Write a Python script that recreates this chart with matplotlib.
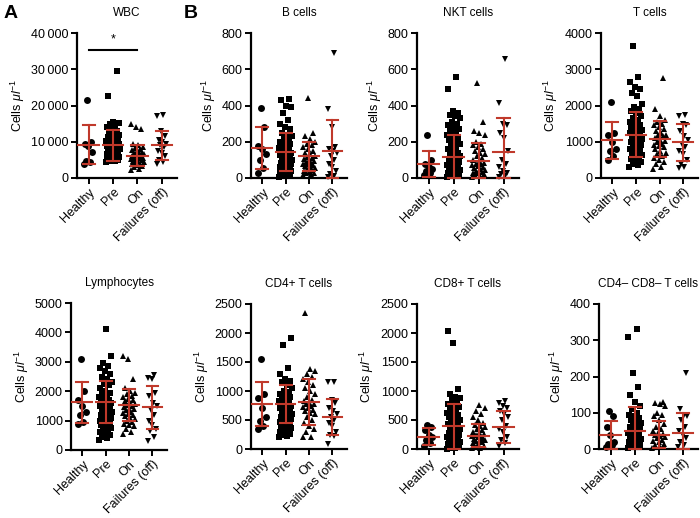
import matplotlib
matplotlib.use("Agg")
import matplotlib.pyplot as plt
import numpy as np

plt.rcParams['font.family'] = ['Liberation Sans', 'DejaVu Sans']
plt.rcParams['mathtext.fontset'] = 'custom'
plt.rcParams['mathtext.it'] = 'Liberation Sans:italic'
plt.rcParams['mathtext.rm'] = 'Liberation Sans'

groups = ["Healthy", "Pre", "On", "Failures (off)"]
markers = ["o", "s", "^", "v"]

titles = ["WBC", "B cells", "NKT cells", "T cells",
          "Lymphocytes", "CD4+ T cells", "CD8+ T cells", "CD4\u2013 CD8\u2013 T cells"]
ymax = [40000, 800, 800, 4000, 5000, 2500, 2500, 400]
ystep = [10000, 200, 200, 1000, 1000, 500, 500, 100]

# ---- individual values ----
wbc_healthy = [21500, 10000, 9500, 8800, 7200, 4800, 4500, 3800]
wbc_pre = [29500, 22500, 15500, 15200, 14800, 14500, 14000, 13500, 13000, 12800, 12500, 12000,
           11800, 11500, 11200, 11000, 10800, 10500, 10200, 10000, 9800, 9600, 9400, 9200, 9000,
           8800, 8600, 8400, 8200, 8000, 7800, 7600, 7400, 7200, 7000, 6800, 6600, 6400, 6200,
           6000, 5800, 5600, 5400, 5200, 5000, 4800, 4600, 4500, 8500, 9300, 10600, 7100, 6300, 5500]
wbc_on = [15000, 14000, 13500, 9500, 9000, 8500, 8200, 8000, 7600, 7200, 7000, 6800, 6500, 6300,
          6000, 5800, 5600, 5400, 5200, 5000, 4800, 4600, 4400, 4200, 4000, 3800, 3500, 3200, 3000,
          2600, 2200, 6100, 5500, 4900, 7400]
wbc_fail = [17500, 17000, 13000, 11500, 10500, 10000, 9500, 9000, 8500, 7500, 7000, 6000, 5000, 4500, 3800]

b_healthy = [385, 280, 175, 160, 130, 100, 55, 25]
b_pre = [435, 430, 400, 390, 360, 320, 300, 280, 270, 250, 240, 230, 220, 210, 200, 195, 190, 180,
         170, 160, 155, 150, 145, 140, 130, 125, 120, 110, 105, 100, 95, 90, 85, 80, 75, 70, 65, 60,
         55, 50, 45, 40, 35, 30, 25, 20, 15, 10, 5, 115, 135, 165, 60, 30]
b_on = [440, 250, 230, 215, 200, 190, 180, 170, 160, 150, 140, 130, 120, 115, 110, 105, 100, 95, 90,
        85, 80, 75, 70, 65, 60, 55, 50, 45, 40, 35, 30, 25, 20, 15]
b_fail = [690, 380, 280, 170, 160, 150, 140, 120, 100, 80, 60, 40, 20, 10, 5]

nkt_healthy = [240, 100, 80, 60, 50, 40, 30, 15]
nkt_pre = [560, 490, 370, 360, 350, 340, 330, 310, 300, 290, 280, 270, 260, 250, 240, 230, 220, 210,
           200, 190, 180, 170, 160, 150, 140, 130, 120, 110, 100, 90, 80, 70, 60, 50, 45, 40, 35, 30,
           25, 20, 15, 10, 5, 85, 65, 55, 125, 105, 95]
nkt_on = [525, 310, 260, 250, 240, 200, 190, 180, 170, 160, 150, 140, 130, 120, 110, 100, 90, 80, 70,
          60, 55, 50, 45, 40, 35, 30, 25, 20, 15, 10, 5, 65, 75, 85]
nkt_fail = [655, 415, 300, 290, 250, 220, 150, 100, 80, 60, 40, 30, 20, 10, 5]

t_healthy = [2100, 1250, 1200, 1000, 800, 750, 600, 500]
t_pre = [3650, 2780, 2650, 2500, 2450, 2350, 2250, 2050, 1950, 1900, 1850, 1800, 1700, 1650, 1600,
         1550, 1500, 1450, 1400, 1350, 1300, 1250, 1200, 1150, 1100, 1050, 1000, 950, 900, 850, 800,
         750, 700, 650, 600, 550, 500, 450, 400, 350, 300, 1120, 980, 880, 760, 640, 520, 1320, 1230, 1080]
t_on = [2750, 1900, 1700, 1600, 1550, 1500, 1450, 1400, 1350, 1300, 1250, 1200, 1150, 1100, 1050,
        1000, 950, 900, 850, 800, 750, 700, 650, 600, 550, 500, 450, 400, 300, 250, 1180, 1020, 880]
t_fail = [1750, 1700, 1500, 1450, 1300, 1150, 1050, 950, 850, 750, 650, 500, 400, 300, 270]

lym_healthy = [3100, 2000, 1700, 1500, 1300, 1200, 950, 900]
lym_pre = [4100, 3200, 2950, 2850, 2800, 2700, 2600, 2500, 2400, 2300, 2250, 2200, 2100, 2000, 1950,
           1900, 1850, 1800, 1750, 1700, 1650, 1600, 1550, 1500, 1450, 1400, 1350, 1300, 1250, 1200,
           1150, 1100, 1050, 1000, 950, 900, 850, 800, 750, 700, 650, 600, 550, 500, 450, 400, 350,
           1620, 1480, 1320, 1180, 980]
lym_on = [3200, 3100, 2400, 2100, 2000, 1950, 1900, 1850, 1800, 1750, 1700, 1650, 1600, 1550, 1500,
          1450, 1400, 1350, 1300, 1250, 1200, 1150, 1100, 1050, 1000, 950, 900, 850, 800, 700, 600,
          550, 1520, 1380, 1220]
lym_fail = [2550, 2450, 2400, 1950, 1850, 1600, 1500, 1350, 1200, 1000, 850, 700, 650, 450, 300]

cd4_healthy = [1560, 950, 880, 700, 550, 480, 400, 350]
cd4_pre = [1920, 1800, 1400, 1300, 1200, 1180, 1150, 1100, 1050, 1000, 980, 950, 920, 900, 880, 850,
           820, 800, 780, 760, 740, 720, 700, 680, 650, 620, 600, 580, 560, 540, 520, 500, 480, 460,
           440, 420, 400, 380, 360, 340, 320, 300, 280, 260, 240, 220, 200, 790, 710, 630, 550]
cd4_on = [2350, 1380, 1350, 1300, 1250, 1200, 1150, 1100, 1050, 1000, 950, 900, 850, 800, 780, 750,
          720, 700, 680, 650, 620, 600, 550, 500, 450, 400, 350, 300, 200, 200, 830, 770]
cd4_fail = [1160, 1150, 850, 800, 700, 650, 600, 550, 500, 450, 400, 300, 250, 230, 80]

cd8_healthy = [420, 380, 330, 250, 200, 150, 100, 50]
cd8_pre = [2030, 1830, 1030, 950, 900, 880, 850, 800, 780, 750, 720, 700, 650, 620, 600, 580, 550,
           520, 500, 480, 450, 420, 400, 380, 350, 330, 300, 280, 250, 230, 200, 180, 150, 130, 100,
           80, 60, 40, 20, 10, 5, 430, 360, 270, 210, 160, 120, 90]
cd8_on = [760, 700, 650, 600, 550, 500, 450, 420, 400, 380, 350, 320, 300, 280, 260, 240, 220, 200,
          180, 160, 140, 120, 100, 80, 60, 40, 20, 10, 230, 190, 150]
cd8_fail = [820, 800, 750, 700, 650, 600, 550, 500, 400, 350, 300, 200, 150, 100, 50]

dn_healthy = [105, 90, 60, 40, 20, 15, 10, 5]
dn_pre = [330, 308, 210, 172, 150, 130, 120, 110, 100, 95, 90, 85, 80, 75, 70, 65, 60, 55, 50, 45,
          40, 35, 30, 25, 20, 15, 10, 5, 2, 48, 38, 28, 18, 8, 62, 72]
dn_on = [130, 128, 125, 120, 100, 95, 90, 80, 70, 60, 55, 50, 45, 40, 35, 30, 25, 20, 15, 10, 5, 2,
         42, 32, 22]
dn_fail = [210, 110, 95, 90, 80, 60, 50, 40, 30, 20, 10, 5]

points = [
    [wbc_healthy, wbc_pre, wbc_on, wbc_fail],
    [b_healthy, b_pre, b_on, b_fail],
    [nkt_healthy, nkt_pre, nkt_on, nkt_fail],
    [t_healthy, t_pre, t_on, t_fail],
    [lym_healthy, lym_pre, lym_on, lym_fail],
    [cd4_healthy, cd4_pre, cd4_on, cd4_fail],
    [cd8_healthy, cd8_pre, cd8_on, cd8_fail],
    [dn_healthy, dn_pre, dn_on, dn_fail],
]

# ---- mean and SD ----
means = [
    [9200, 9000, 6200, 9000],
    [165, 145, 120, 150],
    [75, 115, 95, 145],
    [1040, 1200, 1080, 980],
    [1620, 1630, 1520, 1450],
    [780, 770, 810, 550],
    [215, 390, 230, 380],
    [38, 50, 40, 45],
]
sds = [
    [5400, 4200, 3000, 4000],
    [115, 105, 80, 170],
    [72, 125, 100, 185],
    [515, 620, 490, 515],
    [690, 720, 540, 730],
    [380, 330, 400, 315],
    [145, 390, 200, 270],
    [40, 65, 38, 55],
]

red = '#c0392b'
W, H = 700, 518
fig = plt.figure(figsize=(7, 5.18), dpi=100)

# panel boxes in pixels: (left, top, right, bottom)
boxes = [
    (77, 33, 177, 178), (251, 33, 347, 178), (417, 33, 519, 178), (601, 33, 698, 178),
    (71, 303, 167, 450), (251, 304, 347, 449), (417, 304, 519, 449), (599, 304, 698, 449),
]

def fmt(v):
    v = int(v)
    if v >= 10000:
        return f"{v:,}".replace(",", "\u2009")
    return str(v)

for i in range(8):
    l, t, r, b = boxes[i]
    ax = fig.add_axes([l / W, 1 - b / H, (r - l) / W, (b - t) / H])
    for g in range(4):
        vals = np.array(points[i][g], dtype=float)
        n = len(vals)
        order = np.argsort(vals)
        half = 0.28 if n > 20 else 0.2
        offs = np.zeros(n)
        seq = ((np.arange(n) * 0.618034) % 1.0 - 0.5) * 2 * half
        offs[order] = seq
        ax.plot(g + offs, vals, linestyle='none', marker=markers[g], color='black',
                markersize=5, markeredgewidth=0, clip_on=False, zorder=2)
        m, s = means[i][g], sds[i][g]
        lo = max(m - s, 0)
        ax.plot([g - 0.42, g + 0.42], [m, m], color=red, lw=1.5, zorder=3, clip_on=False)
        ax.plot([g, g], [lo, m + s], color=red, lw=1.5, zorder=3, clip_on=False)
        ax.plot([g - 0.25, g + 0.25], [m + s, m + s], color=red, lw=1.5, zorder=3, clip_on=False)
        ax.plot([g - 0.25, g + 0.25], [lo, lo], color=red, lw=1.5, zorder=3, clip_on=False)
    ax.set_xlim(-0.48, 3.62)
    ax.set_ylim(0, ymax[i])
    ticks = np.arange(0, ymax[i] + 1, ystep[i])
    ax.set_yticks(ticks)
    ax.set_yticklabels([fmt(v) for v in ticks], fontsize=9)
    ax.set_xticks(range(4))
    ax.set_xticklabels(groups, rotation=45, ha='right', rotation_mode='anchor', fontsize=9)
    for sp in ['top', 'right']:
        ax.spines[sp].set_visible(False)
    for sp in ['left', 'bottom']:
        ax.spines[sp].set_linewidth(1.6)
    ax.tick_params(width=1.4, length=4, direction='out', pad=2)
    ax.set_ylabel(r'Cells $\mu l^{-1}$', fontsize=9, labelpad=3)
    ax.set_title(titles[i], fontsize=8.5, pad=12)
    if i == 0:
        ax.plot([0, 2], [35300, 35300], color='black', lw=1.5, clip_on=False)
        ax.text(1, 36500, '*', ha='center', va='bottom', fontsize=9)

fig.text(4 / W, 1 - 14 / H, 'A', fontsize=14, fontweight='bold', va='center', ha='left')
fig.text(184 / W, 1 - 14 / H, 'B', fontsize=14, fontweight='bold', va='center', ha='left')

fig.savefig('out.png', dpi=100)
